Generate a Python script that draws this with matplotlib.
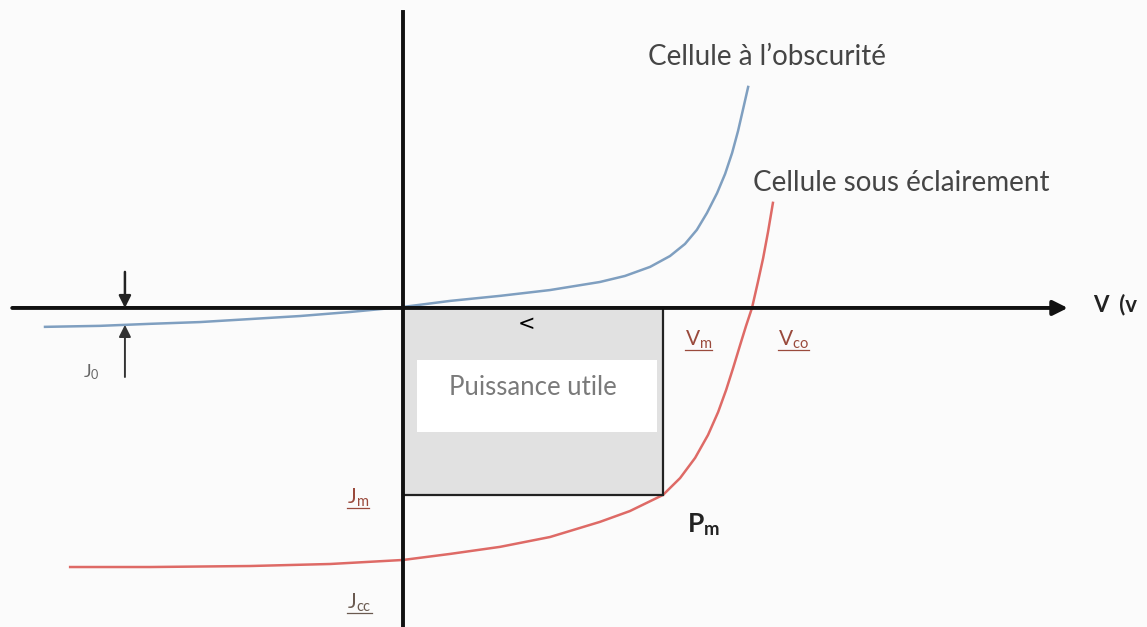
import matplotlib
matplotlib.use("Agg")
import matplotlib.pyplot as plt
from matplotlib.patches import Rectangle

plt.rcParams['font.family'] = ['Lato', 'DejaVu Sans']
plt.rcParams['mathtext.fontset'] = 'custom'
plt.rcParams['mathtext.rm'] = 'Lato'
plt.rcParams['mathtext.it'] = 'Lato:italic'
plt.rcParams['mathtext.bf'] = 'Lato:bold'

# Characteristic J(V) curves, normalised units (V / Vco, J / Jcc)
dark_v = [-1.026, -0.868, -0.725, -0.582, -0.438, -0.295, -0.152, 0.000, 0.135,
          0.278, 0.421, 0.564, 0.636, 0.708, 0.765, 0.808, 0.842, 0.871, 0.900,
          0.923, 0.943, 0.960, 0.974, 0.989]
dark_j = [-0.075, -0.071, -0.063, -0.056, -0.044, -0.032, -0.016, 0.004, 0.028,
          0.048, 0.071, 0.103, 0.127, 0.163, 0.206, 0.254, 0.310, 0.377, 0.456,
          0.532, 0.615, 0.702, 0.786, 0.877]

light_v = [-0.954, -0.725, -0.438, -0.209, 0.000, 0.135, 0.278, 0.421, 0.564,
           0.650, 0.745, 0.794, 0.837, 0.874, 0.903, 0.926, 0.946, 0.966, 0.983,
           1.000, 1.017, 1.032, 1.046, 1.060]
light_j = [-1.028, -1.028, -1.024, -1.016, -1.000, -0.976, -0.948, -0.909, -0.849,
           -0.806, -0.742, -0.675, -0.595, -0.504, -0.413, -0.325, -0.238, -0.147,
           -0.071, 0.000, 0.103, 0.198, 0.302, 0.417]

# Operating points
V_m, J_m = 0.745, -0.742
V_co, J_cc = 1.000, -1.000
J_0 = -0.067

BLUE = '#7f9fc0'
RED = '#de6a66'
LABEL_RED = '#9a4a3c'

fig = plt.figure(figsize=(11.47, 6.27), dpi=100, facecolor='#fbfbfb')
ax = fig.add_axes([0, 0, 1, 1])
ax.set_facecolor('#fbfbfb')
ax.set_xlim(-1.155, 2.132)
ax.set_ylim(-1.266, 1.222)
ax.axis('off')

# Useful power rectangle (0,0)-(Vm,Jm) with a white band for its caption
ax.add_patch(Rectangle((0, J_m), V_m, -J_m, facecolor='#e1e1e1',
                       edgecolor='none', zorder=1))
ax.add_patch(Rectangle((0.04, 0.664 * J_m), 0.688, 0.386 * -J_m,
                       facecolor='white', edgecolor='none', zorder=1.5))
ax.plot([0, V_m, V_m, 0], [0, 0, J_m, J_m], color='#222222', lw=1.6,
        zorder=3, solid_joinstyle='miter')

# Curves
ax.plot(dark_v, dark_j, color=BLUE, lw=1.8, zorder=2)
ax.plot(light_v, light_j, color=RED, lw=1.8, zorder=2)

# Axes
ax.annotate('', xy=(1.905, 0), xytext=(-1.12, 0),
            arrowprops=dict(arrowstyle='-|>', lw=2.8, color='#111111',
                            mutation_scale=22, shrinkA=0, shrinkB=0), zorder=4)
ax.plot([0, 0], [1.175, -1.30], color='#111111', lw=2.8, zorder=4)

# Saturation current markers
ax.annotate('', xy=(-0.797, 0), xytext=(-0.797, 0.143),
            arrowprops=dict(arrowstyle='-|>', lw=1.8, color='#222222',
                            mutation_scale=18, shrinkA=0, shrinkB=0), zorder=4)
ax.annotate('', xy=(-0.797, J_0), xytext=(-0.797, -0.274),
            arrowprops=dict(arrowstyle='-|>', lw=1.4, color='#333333',
                            mutation_scale=18, shrinkA=0, shrinkB=0), zorder=4)

# Labels
ax.text(0.702, 0.996, "Cellule à l’obscurité", fontsize=20, color='#454545',
        ha='left', va='center')
ax.text(1.003, 0.496, "Cellule sous éclairement", fontsize=20, color='#454545',
        ha='left', va='center')
ax.text(1.977, 0.012, "V  (v", fontsize=16, fontweight='bold', color='#222222',
        ha='left', va='center')
ax.text(0.372, -0.317, "Puissance utile", fontsize=18.5, color='#7a7a7a',
        ha='center', va='center', zorder=5)
ax.text(0.355, -0.063, "<", fontsize=15, color='black', ha='center',
        va='center', zorder=5, family='DejaVu Sans')
ax.text(0.814, -0.861, r"$\mathbf{P}_{\mathbf{m}}$", fontsize=19,
        color='#222222', ha='left', va='center')
ax.text(-0.917, -0.254, r"J$_0$", fontsize=13, color='#666666',
        ha='left', va='center')

underlined = [
    ax.text(0.808, -0.127, r"V$_\mathrm{m}$", fontsize=15, color=LABEL_RED,
            ha='left', va='center'),
    ax.text(1.074, -0.127, r"V$_\mathrm{co}$", fontsize=15, color=LABEL_RED,
            ha='left', va='center'),
    ax.text(-0.160, J_m - 0.012, r"J$_\mathrm{m}$", fontsize=15,
            color=LABEL_RED, ha='left', va='center'),
    ax.text(-0.160, -1.171, r"J$_\mathrm{cc}$", fontsize=15, color='#6a5a50',
            ha='left', va='center'),
]

fig.canvas.draw()
renderer = fig.canvas.get_renderer()
inv = ax.transData.inverted()
for t in underlined:
    bb = t.get_window_extent(renderer)
    (x0, y0), (x1, _) = inv.transform([(bb.x0, bb.y0 + 1), (bb.x1, bb.y0 + 1)])
    ax.plot([x0, x1], [y0, y0], color=t.get_color(), lw=0.9, zorder=5)

fig.savefig('out.png', dpi=100, facecolor=fig.get_facecolor())
